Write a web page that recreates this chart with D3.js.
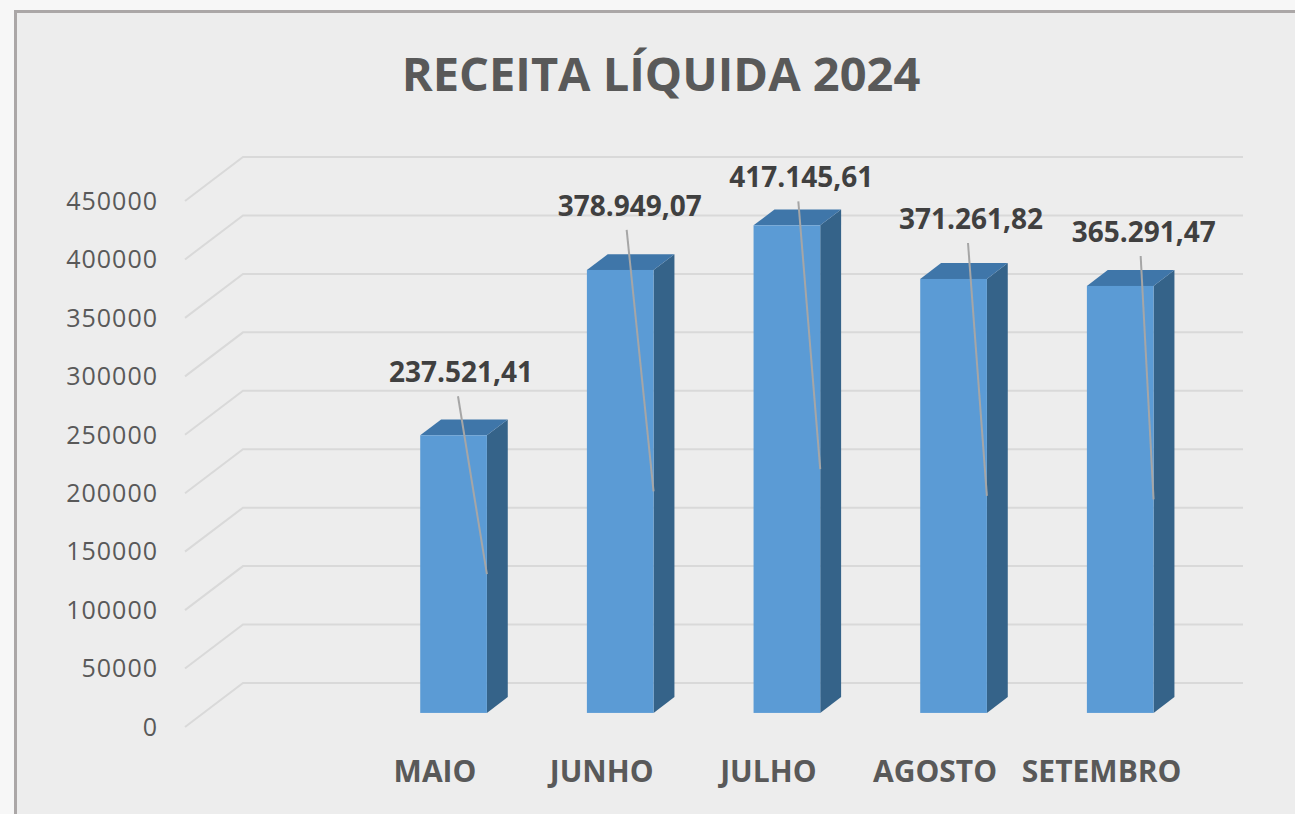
<html>
<head>
<meta charset="utf-8">
<script src="https://d3js.org/d3.v7.min.js"></script>
<style>
  body { margin: 0; background: #f7f7f7; }
  text { font-family: "Open Sans", sans-serif; }
</style>
</head>
<body>
<svg id="chart" width="1295" height="814"></svg>
<script>
// data (first category is an empty slot in the original)
const months = ["", "MAIO", "JUNHO", "JULHO", "AGOSTO", "SETEMBRO"];
const receita = [null, 237521.41, 378949.07, 417145.61, 371261.82, 365291.47];
const valueLabels = ["", "237.521,41", "378.949,07", "417.145,61", "371.261,82", "365.291,47"];
const yTicks = [0, 50000, 100000, 150000, 200000, 250000, 300000, 350000, 400000, 450000];
const title = "RECEITA LÍQUIDA 2024";

// manual label nudges (Excel labels were dragged a bit)
const labelNudge = [[0, 0], [-3, -5], [-1, -6], [4, 10], [7, -2], [13, 4]];

const svg = d3.select("#chart");

// frame
svg.append("rect")
  .attr("x", 15.5).attr("y", 11.5)
  .attr("width", 1300).attr("height", 820)
  .style("fill", "#ededed")
  .style("stroke", "#aba7a7")
  .style("stroke-width", 3);

svg.append("text")
  .attr("x", 661).attr("y", 91)
  .attr("text-anchor", "middle")
  .style("font-size", "47px")
  .style("font-weight", "bold")
  .style("fill", "#595959")
  .text(title);

// 3d depth vector for the full floor depth
const depth = [58, -44];
const f0 = 0.32, f1 = 0.68;

const x = d3.scaleBand().domain(months).range([185, 1185])
  .paddingInner(0.6).paddingOuter(0.3);
const y = d3.scaleLinear().domain([0, 450000]).range([727, 201]);

// gridlines: diagonal on side wall then along back wall
svg.append("g").selectAll("path").data(yTicks)
  .join("path")
  .attr("d", d => {
    const y0 = y(d);
    return `M185,${y0}L${185 + depth[0]},${y0 + depth[1]}L1243,${y0 + depth[1]}`;
  })
  .style("fill", "none")
  .style("stroke", "#d9d9d9")
  .style("stroke-width", 2);

svg.append("g").selectAll("text").data(yTicks)
  .join("text")
  .attr("x", 158)
  .attr("y", d => y(d))
  .attr("dy", "0.35em")
  .attr("text-anchor", "end")
  .style("font-size", "25px")
  .style("letter-spacing", "1px")
  .style("fill", "#595959")
  .text(d => d);

const bars = months.map((m, i) => ({ m: m, v: receita[i], label: valueLabels[i], nudge: labelNudge[i] }))
  .filter(d => d.v != null);

const dx = (f1 - f0) * depth[0], dy = (f1 - f0) * depth[1];

const g = svg.append("g").selectAll("g").data(bars).join("g");

g.each(function (d) {
  const el = d3.select(this);
  const x0 = x(d.m) + f0 * depth[0];
  const x1 = x0 + x.bandwidth();
  const yb = y(0) + f0 * depth[1];
  const yt = y(d.v) + f0 * depth[1];

  el.append("path")
    .attr("d", `M${x1},${yt}L${x1 + dx},${yt + dy}L${x1 + dx},${yb + dy}L${x1},${yb}Z`)
    .style("fill", "#356389");
  el.append("path")
    .attr("d", `M${x0},${yt}L${x0 + dx},${yt + dy}L${x1 + dx},${yt + dy}L${x1},${yt}Z`)
    .style("fill", "#3f76a9");
  el.append("rect")
    .attr("x", x0).attr("y", yt)
    .attr("width", x.bandwidth()).attr("height", yb - yt)
    .style("fill", "#5b9bd5");

  const lx = (x0 + x1 + dx) / 2 + d.nudge[0];
  const ly = yt - 48 + d.nudge[1];

  el.append("line")
    .attr("x1", lx - 3).attr("y1", ly + 14)
    .attr("x2", x1).attr("y2", (yt + yb) / 2)
    .style("stroke", "#a6a6a6")
    .style("stroke-width", 2);

  el.append("text")
    .attr("x", lx).attr("y", ly)
    .attr("text-anchor", "middle")
    .style("font-size", "28px")
    .style("font-weight", "bold")
    .style("fill", "#404040")
    .text(d.label);
});

svg.append("g").selectAll("text").data(months)
  .join("text")
  .attr("x", d => x(d) + x.bandwidth() / 2)
  .attr("y", 782)
  .attr("text-anchor", "middle")
  .style("font-size", "30px")
  .style("font-weight", "bold")
  .style("fill", "#595959")
  .text(d => d);
</script>
</body>
</html>
